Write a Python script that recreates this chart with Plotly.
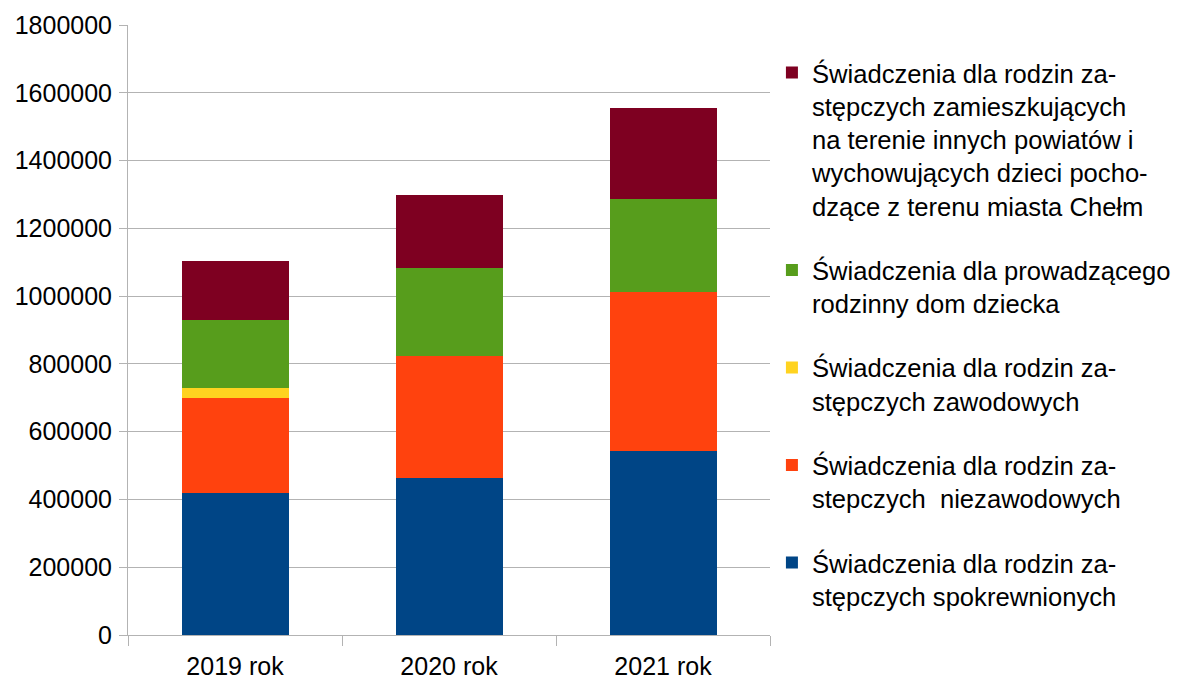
import plotly.graph_objects as go

categories = ["2019 rok", "2020 rok", "2021 rok"]

spokrewnione = [417700, 463000, 542700]
niezawodowe = [280700, 360300, 469700]
zawodowe = [29500, 0, 0]
rodzinny_dom = [200900, 259100, 273600]
inne_powiaty = [174200, 215600, 269000]

series = [
    ("Świadczenia dla rodzin za-<br>stępczych spokrewnionych", spokrewnione, "#004586"),
    ("Świadczenia dla rodzin za-<br>stepczych \u00a0niezawodowych", niezawodowe, "#ff420e"),
    ("Świadczenia dla rodzin za-<br>stępczych zawodowych", zawodowe, "#ffd320"),
    ("Świadczenia dla prowadzącego<br>rodzinny dom dziecka", rodzinny_dom, "#579d1c"),
    ("Świadczenia dla rodzin za-<br>stępczych zamieszkujących<br>na terenie innych powiatów i<br>wychowujących dzieci pocho-<br>dzące z terenu miasta Chełm", inne_powiaty, "#7e0021"),
]

fig = go.Figure()
n = len(series)
for i, (name, vals, color) in enumerate(series):
    fig.add_trace(go.Bar(
        x=categories, y=vals, name=name, legendgroup=f"g{i}",
        legendrank=n - i,
        marker=dict(color=color, line=dict(width=0)),
    ))

# page body has an 8px default margin; size the figure so it fits the 1185x679 window
fig.update_layout(
    barmode="stack",
    bargap=0.5,
    width=1177, height=671,
    margin=dict(l=120, r=415, t=17, b=44, autoexpand=False),
    paper_bgcolor="white",
    plot_bgcolor="white",
    font=dict(family="Liberation Sans, Arial, sans-serif", size=25, color="black"),
    legend=dict(
        x=1.003, xanchor="left",
        y=0.96, yanchor="top",
        traceorder="grouped",
        tracegroupgap=28,
        valign="top",
        font=dict(size=25.6, color="black"),
        bgcolor="rgba(0,0,0,0)",
    ),
    showlegend=True,
)

fig.update_xaxes(
    type="category",
    automargin=False,
    tickson="boundaries",
    showgrid=False,
    showline=True, linecolor="#b3b3b3", linewidth=1,
    ticks="outside", ticklen=10, tickcolor="#b3b3b3",
    ticklabelstandoff=9,
    tickfont=dict(size=25),
)
fig.update_yaxes(
    range=[0, 1800000],
    automargin=False,
    dtick=200000,
    tickformat="d",
    showgrid=True, gridcolor="#b3b3b3", gridwidth=1,
    showline=True, linecolor="#b3b3b3", linewidth=1,
    zeroline=False,
    ticks="outside", ticklen=8, tickcolor="#b3b3b3",
    ticklabelstandoff=2,
    tickfont=dict(size=25),
)

fig.write_html("out.html")
